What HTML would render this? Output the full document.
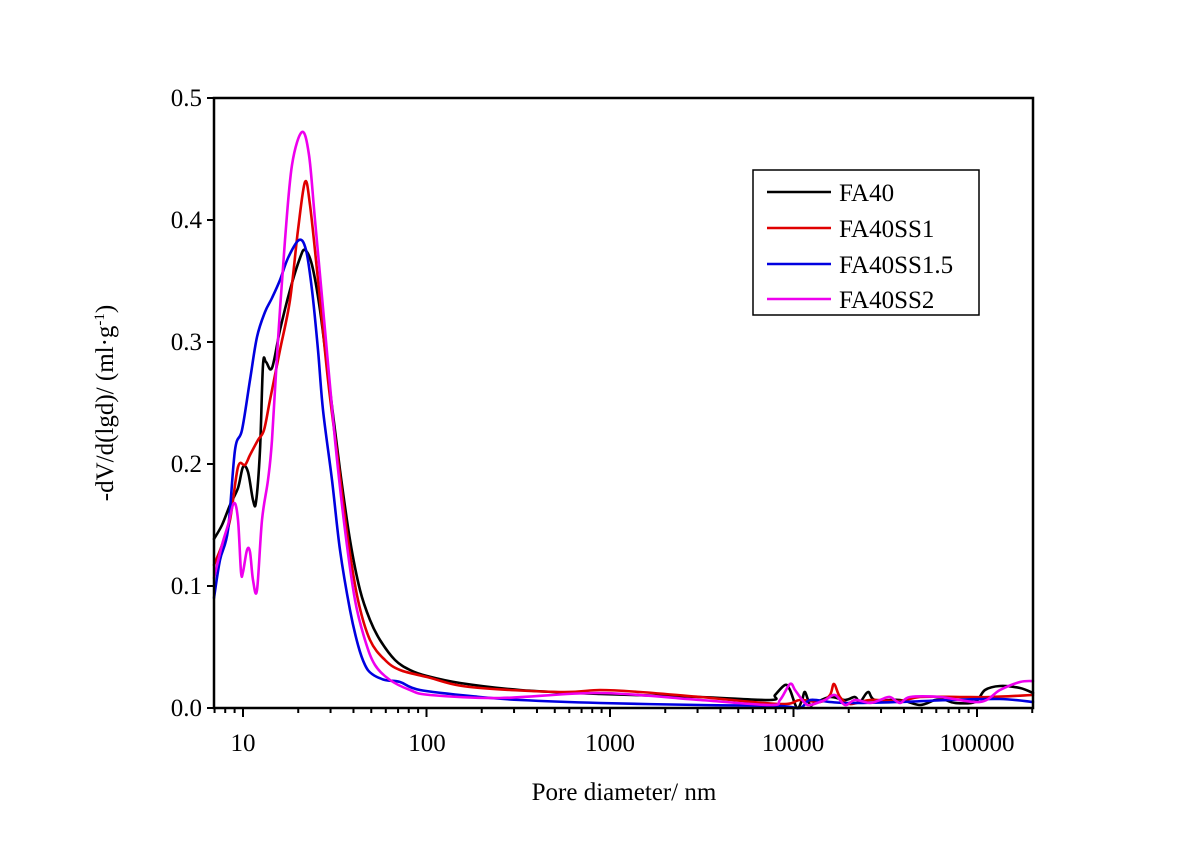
<!DOCTYPE html>
<html><head><meta charset="utf-8"><style>html,body{margin:0;padding:0;background:#fff}svg{display:block}</style></head>
<body>
<svg id="s" width="1200" height="849" xmlns="http://www.w3.org/2000/svg" font-family="Liberation Serif, serif">
<rect width="1200" height="849" fill="#fff"/>
<g id="curves" fill="none" stroke-width="2.6" stroke-linejoin="round" stroke-linecap="round">
<polyline stroke="#000" points="214,539 222,525 230,505 238,488 243,467 248,472 253,500 256,502 260,450 263,365 266,362 272,368 280,330 290,290 300,258 305,250 312,265 320,310 330,390 340,470 350,540 360,590 370,620 380,640 395,660 410,670 427,676 460,683 520,690 600,694 700,697 770,700 775,695 785,685 790,690 797,708 802,700 805,692 810,705 815,703 830,697 845,700 855,697 860,702 868,692 875,700 900,700 920,705 935,700 945,700 955,703 975,702 985,690 1000,686 1020,688 1033,693"/>
<polyline stroke="#e00000" points="214,565 222,545 230,520 238,467 245,465 250,455 258,440 264,430 270,400 280,350 290,300 298,230 305,182 310,205 318,280 328,380 338,460 348,540 358,600 370,640 385,660 400,670 427,677 470,687 560,692 600,690 640,692 700,697 780,704 800,700 820,702 830,695 834,684 840,697 850,704 870,700 900,701 920,697 960,697 990,697 1033,695"/>
<polyline stroke="#0000e0" points="214,598 220,560 228,530 235,450 242,430 250,380 257,337 265,312 272,298 280,280 288,258 299,240 306,250 312,290 318,350 323,410 332,480 340,550 350,610 358,645 365,665 372,674 385,680 400,682 420,690 480,697 520,700 600,703 700,705 780,706 800,708 810,700 830,702 850,703 900,702 950,700 1000,699 1033,702"/>
<polyline stroke="#ee00ee" points="214,578 222,545 228,525 234,503 238,520 241,572 243,572 247,550 250,552 253,580 257,590 262,520 268,480 272,440 278,340 285,240 292,165 302,132 309,155 315,220 325,330 335,440 345,530 355,600 365,640 375,665 390,680 410,690 430,695 500,698 600,693 700,700 770,705 780,700 790,684 795,690 800,697 805,703 810,705 825,700 835,695 845,705 855,700 870,703 880,700 890,697 900,703 910,697 940,697 980,702 1000,690 1020,682 1033,681"/>
</g>
<rect x="214" y="98" width="819" height="610" fill="none" stroke="#000" stroke-width="2.5"/>
<g id="ticks" stroke="#000" stroke-width="2"></g>
<g font-size="25" fill="#000">
<g text-anchor="end">
<text x="202" y="716">0.0</text><text x="202" y="594">0.1</text><text x="202" y="472">0.2</text><text x="202" y="350">0.3</text><text x="202" y="228">0.4</text><text x="202" y="106">0.5</text>
</g>
<g text-anchor="middle">
<text x="243" y="751">10</text><text x="427" y="751">100</text><text x="610" y="751">1000</text><text x="793" y="751">10000</text><text x="977" y="751">100000</text>
<text x="624" y="800">Pore diameter/ nm</text>
<text transform="translate(113,403) rotate(-90)">-dV/d(lgd)/ (ml·g<tspan dy="-9" font-size="15">-1</tspan><tspan dy="9">)</tspan></text>
</g>
</g>
<rect x="753" y="170" width="226" height="145" fill="#fff" stroke="#000" stroke-width="1.5"/>
<g stroke-width="2.6">
<line x1="767" y1="192" x2="831" y2="192" stroke="#000"/>
<line x1="767" y1="228" x2="831" y2="228" stroke="#e00000"/>
<line x1="767" y1="264" x2="831" y2="264" stroke="#0000e0"/>
<line x1="767" y1="299" x2="831" y2="299" stroke="#ee00ee"/>
</g>
<g font-size="25" fill="#000">
<text x="839" y="201">FA40</text><text x="839" y="237">FA40SS1</text><text x="839" y="273">FA40SS1.5</text><text x="839" y="308">FA40SS2</text>
</g>
<g stroke="#000" stroke-width="2">
<line x1="214" y1="708" x2="207" y2="708"/><line x1="214" y1="586" x2="207" y2="586"/><line x1="214" y1="464" x2="207" y2="464"/><line x1="214" y1="342" x2="207" y2="342"/><line x1="214" y1="220" x2="207" y2="220"/><line x1="214" y1="98" x2="207" y2="98"/>
</g>
</svg>
<script>
var ns='http://www.w3.org/2000/svg';
var g=document.getElementById('ticks');
function X(v){return 243+183.5*(Math.log10(v)-1);}
for(var e=0;e<6;e++){for(var m=1;m<10;m++){var v=m*Math.pow(10,e);var x=X(v);if(x<213||x>1034)continue;var l=document.createElementNS(ns,'line');l.setAttribute('x1',x);l.setAttribute('x2',x);l.setAttribute('y1',708);l.setAttribute('y2',m==1?717:713);g.appendChild(l);}}
var pls=document.querySelectorAll('#curves polyline');
for(var i=0;i<pls.length;i++){var pl=pls[i];var p=pl.getAttribute('points').trim().split(/\s+/).map(function(s){return s.split(',').map(Number);});
var d='M'+p[0][0]+','+p[0][1];
for(var k=0;k<p.length-1;k++){var p0=p[k>0?k-1:k],p1=p[k],p2=p[k+1],p3=p[k+2<p.length?k+2:k+1];
var c1x=p1[0]+(p2[0]-p0[0])/6,c1y=p1[1]+(p2[1]-p0[1])/6,c2x=p2[0]-(p3[0]-p1[0])/6,c2y=p2[1]-(p3[1]-p1[1])/6;
d+=' C'+c1x+','+c1y+' '+c2x+','+c2y+' '+p2[0]+','+p2[1];}
var path=document.createElementNS(ns,'path');path.setAttribute('d',d);path.setAttribute('stroke',pl.getAttribute('stroke'));pl.parentNode.replaceChild(path,pl);}
</script>
</body></html>
